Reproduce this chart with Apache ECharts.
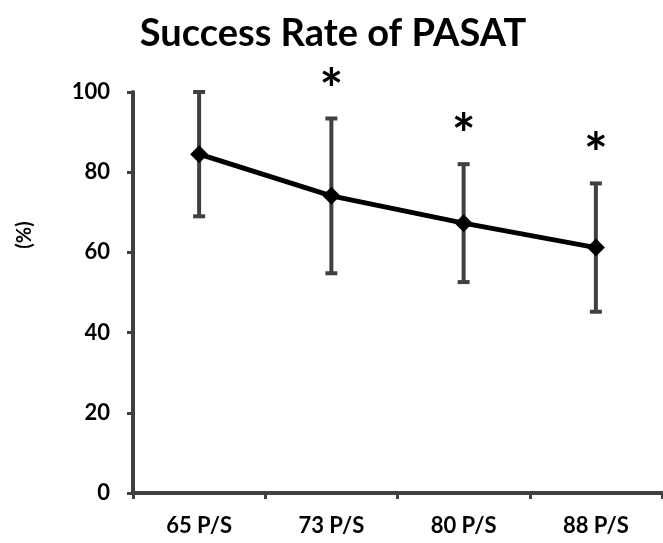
<!DOCTYPE html>
<html><head><meta charset="utf-8">
<script src="https://cdn.jsdelivr.net/npm/echarts@6/dist/echarts.min.js"></script>
<style>html,body{margin:0;padding:0;background:#fff}#c{width:663px;height:543px}</style>
</head><body><div id="c"></div>
<script>
const categories = ['65 P/S', '73 P/S', '80 P/S', '88 P/S'];
const meanValues = [84.5, 74.1, 67.3, 61.2];
const errorValues = [15.5, 19.3, 14.7, 16.0];
const significant = [false, true, true, true];
const yTicks = [0, 20, 40, 60, 80, 100];
const yAxisTitle = '(%)';

const FONT = 'Lato, "Open Sans", sans-serif';
const errData = categories.map((c, i) => [i, meanValues[i] - errorValues[i], meanValues[i] + errorValues[i], significant[i] ? 1 : 0]);

const chart = echarts.init(document.getElementById('c'));
chart.setOption({
  animation: false,
  title: {
    text: 'Success Rate of PASAT', left: 328, top: 10, textAlign: 'center',
    textStyle: {fontFamily: FONT, fontWeight: 'bold', fontSize: 38, color: '#000'}
  },
  graphic: [{
    type: 'text', x: 25, y: 235, rotation: Math.PI / 2,
    style: {text: yAxisTitle, fontFamily: FONT, fontWeight: 'bold', fontSize: 20, fill: '#000', align: 'center', verticalAlign: 'middle'}
  }],
  grid: {left: 133, right: 1, top: 92, bottom: 50},
  xAxis: {
    type: 'category', data: categories, boundaryGap: true,
    axisLine: {lineStyle: {color: '#404040', width: 4}},
    axisTick: {show: true, length: 6, lineStyle: {color: '#404040', width: 3}},
    axisLabel: {fontFamily: FONT, fontWeight: 'bold', fontSize: 22, color: '#000', margin: 22}
  },
  yAxis: {
    type: 'value', min: yTicks[0], max: yTicks[yTicks.length - 1], interval: 20,
    axisLine: {show: true, lineStyle: {color: '#404040', width: 4}},
    axisTick: {show: true, length: 6, lineStyle: {color: '#404040', width: 3}},
    axisLabel: {fontFamily: FONT, fontWeight: 'bold', fontSize: 22, color: '#000', margin: 23},
    splitLine: {show: false}
  },
  series: [
    {
      type: 'custom', data: errData, z: 1,
      renderItem: function (params, api) {
        const x = api.value(0);
        const lo = api.coord([x, api.value(1)]);
        const hi = api.coord([x, api.value(2)]);
        const hw = 6;
        const st = {stroke: '#404040', lineWidth: 4};
        const children = [
          {type: 'line', shape: {x1: hi[0], y1: hi[1], x2: lo[0], y2: lo[1]}, style: st},
          {type: 'line', shape: {x1: hi[0] - hw, y1: hi[1], x2: hi[0] + hw, y2: hi[1]}, style: st},
          {type: 'line', shape: {x1: lo[0] - hw, y1: lo[1], x2: lo[0] + hw, y2: lo[1]}, style: st}
        ];
        if (api.value(3)) {
          children.push({type: 'text', x: hi[0], y: hi[1] - 28,
            style: {text: '*', fontFamily: FONT, fontWeight: 'bold', fontSize: 56, fill: '#000', align: 'center', verticalAlign: 'middle'}});
        }
        return {type: 'group', children: children};
      }
    },
    {
      type: 'line', data: meanValues, z: 3,
      symbol: 'diamond', symbolSize: 18,
      itemStyle: {color: '#000'},
      lineStyle: {color: '#000', width: 5}
    }
  ]
});
</script></body></html>
